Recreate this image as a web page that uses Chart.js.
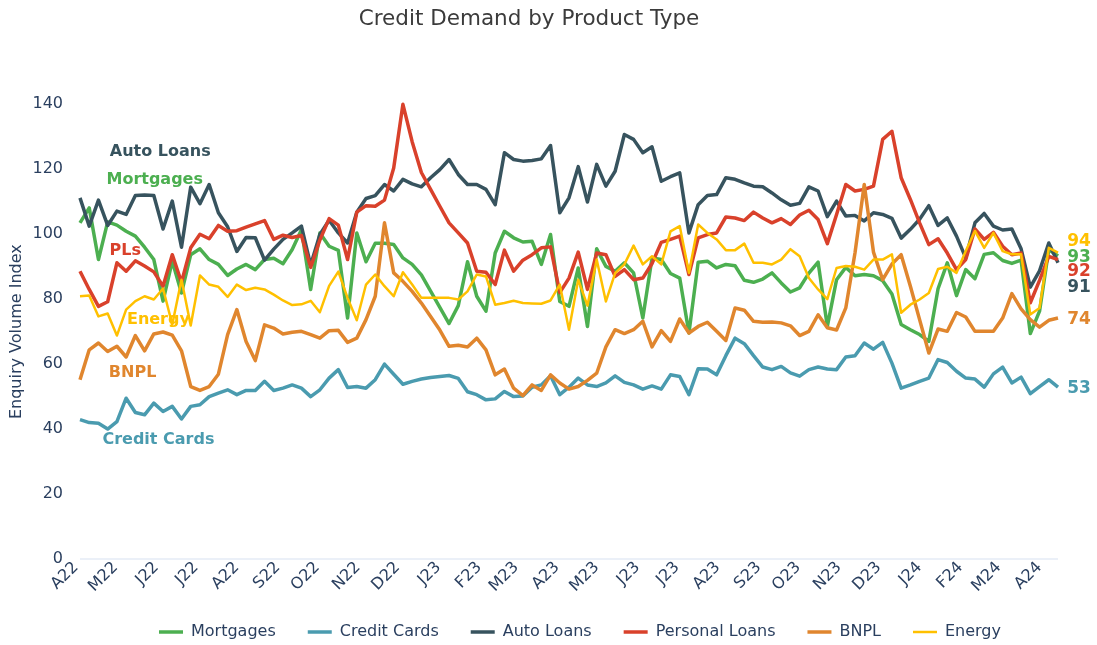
<!DOCTYPE html>
<html>
<head>
<meta charset="utf-8">
<script src="https://cdn.jsdelivr.net/npm/chart.js@4.4.0/dist/chart.umd.min.js"></script>
<style>
  html, body { margin: 0; padding: 0; background: #fff; }
</style>
</head>
<body>
<canvas id="chart" width="1097" height="645"></canvas>
<script>
// weekly enquiry index, first week = start of April 2022
const monthLabels = ['A22','M22','J22','J22','A22','S22','O22','N22','D22','J23','F23','M23','A23',
  'M23','J23','J23','A23','S23','O23','N23','D23','J24','F24','M24','A24'];
// week number on which each month starts
const monthWeeks = [0, 4.29, 8.71, 13, 17.43, 21.86, 26.14, 30.57, 34.86, 39.29, 43.71, 47.71, 52.14,
  56.43, 60.86, 65.14, 69.57, 74, 78.29, 82.71, 87, 91.43, 95.86, 100, 104.43];

const mortgages = [
  103.5,108.1,92.2,103.8,102.8,100.9,99.4,96.0,92.2,79.4,
  91.7,81.9,93.7,95.5,92.2,90.7,87.3,89.3,90.7,89.1,
  92.2,92.6,90.9,95.3,101.4,83.0,100.4,96.3,95.0,74.2,
  100.4,91.5,97.2,97.2,96.8,92.7,90.7,87.5,82.5,77.5,
  72.5,78.0,91.5,80.9,76.3,94.2,100.9,98.9,97.6,97.8,
  90.7,99.9,79.3,77.8,89.6,71.6,95.5,90.1,88.6,91.2,
  88.1,74.2,92.7,92.2,87.9,86.5,69.6,91.4,91.7,89.6,
  90.7,90.3,85.8,85.2,86.2,88.1,85.0,82.2,83.5,88.0,
  91.4,71.6,86.0,89.8,87.2,87.6,87.2,85.7,81.6,72.2,
  70.6,69.1,67.0,83.2,91.2,81.1,89.1,86.3,93.8,94.3,
  91.9,91.0,92.0,69.4,76.3,95.3,93.3
];
const creditCards = [
  42.9,42.0,41.8,40.0,42.3,49.5,45.1,44.4,48.0,45.4,
  47.0,43.1,47.0,47.5,50.0,51.1,52.1,50.6,51.9,51.9,
  54.7,51.9,52.6,53.6,52.6,50.0,52.1,55.7,58.3,52.8,
  53.1,52.6,55.2,60.0,56.9,53.8,54.7,55.4,55.9,56.2,
  56.5,55.6,51.5,50.6,49.0,49.3,51.6,50.0,50.2,52.9,
  53.6,56.4,50.6,52.9,55.7,53.6,53.1,54.2,56.4,54.4,
  53.6,52.3,53.3,52.3,56.7,56.2,50.6,58.6,58.5,56.7,
  62.6,68.0,66.3,62.6,59.1,58.3,59.3,57.3,56.3,58.3,
  59.1,58.5,58.3,62.2,62.6,66.5,64.6,66.7,60.3,52.6,
  53.6,54.7,55.7,61.4,60.5,57.8,55.7,55.4,52.9,57.0,
  59.1,54.2,56.0,50.9,53.1,55.2,52.9
];
const autoLoans = [
  111.2,102.5,110.5,102.7,107.1,106.1,111.9,112.1,111.9,101.6,
  110.2,96.0,114.5,109.4,115.3,106.6,102.3,94.7,99.0,98.9,
  92.0,95.4,98.4,100.4,102.5,90.5,99.9,104.3,100.4,97.3,
  106.8,111.0,111.9,115.3,113.3,116.9,115.5,114.6,117.4,119.9,
  123.0,118.4,115.3,115.3,113.8,109.1,125.1,123.0,122.5,122.7,
  123.2,127.3,106.6,111.2,120.8,109.9,121.5,114.8,119.4,130.7,
  129.2,125.1,126.9,116.3,117.7,118.9,100.4,109.1,111.9,112.2,
  117.4,116.9,115.8,114.8,114.6,112.7,110.6,108.9,109.5,114.6,
  113.3,105.4,110.2,105.6,105.8,104.1,106.6,106.1,104.9,98.8,
  101.5,104.6,108.8,102.7,105.0,99.4,92.7,103.5,106.4,102.5,
  101.3,101.6,95.5,83.7,88.7,97.3,91.2
];
const personalLoans = [
  88.6,83.0,77.8,79.2,91.2,88.6,91.8,90.2,88.4,84.0,
  93.7,85.2,95.8,100.0,98.6,102.7,100.9,101.1,102.2,103.2,
  104.2,98.4,99.7,99.0,99.6,89.8,98.2,104.8,102.8,92.2,
  106.8,108.8,108.6,110.5,120.4,140.0,128.5,119.0,113.8,108.6,
  103.5,100.4,97.3,88.6,88.3,84.5,95.1,88.6,92.0,93.7,
  95.8,96.1,82.0,86.5,94.5,83.0,94.2,93.7,87.0,89.1,
  86.0,86.5,91.0,97.5,98.4,99.4,87.6,98.9,99.9,100.4,
  105.3,105.0,104.2,106.8,105.0,103.5,104.8,103.0,105.9,107.4,
  104.5,97.1,106.1,115.3,113.3,113.8,114.8,129.2,131.7,117.4,
  110.7,103.5,96.8,98.6,94.2,89.1,92.2,101.6,98.4,100.6,
  96.3,93.7,94.2,78.9,85.8,93.2,92.2
];
const bnpl = [
  55.2,64.4,66.5,63.9,65.5,62.2,68.8,64.1,69.3,69.9,
  68.9,64.1,53.1,51.9,53.1,56.9,69.1,76.8,67.0,61.1,
  72.1,71.1,69.3,69.8,70.1,69.1,68.0,70.3,70.4,66.7,
  68.0,73.7,80.9,103.5,88.1,85.5,82.4,78.8,74.7,70.5,
  65.5,65.8,65.3,68.0,64.4,56.7,58.5,52.6,50.3,53.6,
  51.9,56.7,54.2,52.3,53.1,55.0,57.2,65.3,70.6,69.4,
  70.6,73.2,65.3,70.3,67.0,73.9,69.6,71.6,72.9,70.1,
  67.3,77.3,76.6,73.2,72.9,73.0,72.7,71.8,68.8,70.1,
  75.2,71.2,70.5,77.3,94.3,115.3,94.5,86.0,90.8,93.7,
  84.0,73.7,63.4,70.8,70.1,75.9,74.5,70.1,70.1,70.1,
  74.2,81.7,77.0,73.7,71.4,73.5,74.2
];
const energy = [
  80.9,81.1,74.7,75.6,68.8,76.8,79.4,80.9,79.9,83.3,
  72.2,86.0,71.9,87.3,84.5,83.8,80.7,84.5,82.8,83.5,
  83.0,81.4,79.6,78.2,78.4,79.5,76.0,84.1,88.5,80.4,
  73.5,84.5,87.6,84.0,80.9,88.3,84.5,80.4,80.4,80.4,
  80.4,79.9,82.4,87.6,87.0,78.3,78.8,79.5,78.8,78.7,
  78.6,79.6,84.5,70.6,86.0,78.0,92.2,79.3,88.0,90.7,
  96.5,90.7,93.2,90.7,100.9,102.5,88.1,103.0,100.4,98.4,
  95.1,95.1,97.1,91.2,91.2,90.7,92.2,95.4,93.2,86.5,
  83.0,80.0,89.6,90.2,90.0,89.1,92.2,92.2,93.8,75.8,
  78.3,79.9,81.9,89.3,90.0,88.1,94.8,101.0,95.8,100.4,
  94.8,93.8,93.8,75.3,77.3,95.8,94.3
];

const textColor = '#2a3f5f';
const series = [
  { label: 'Mortgages', data: mortgages, color: '#4CAF50', width: 3.5, tag: 'Mortgages', tagAt: [8.1, 116.8], endAt: 92.8 },
  { label: 'Credit Cards', data: creditCards, color: '#4A9BAF', width: 3.5, tag: 'Credit Cards', tagAt: [8.5, 36.7], endAt: 52.4 },
  { label: 'Auto Loans', data: autoLoans, color: '#37535E', width: 3.5, tag: 'Auto Loans', tagAt: [8.7, 125.5], endAt: 83.5 },
  { label: 'Personal Loans', data: personalLoans, color: '#D9412B', width: 3.5, tag: 'PLs', tagAt: [4.9, 95.0], endAt: 88.5 },
  { label: 'BNPL', data: bnpl, color: '#E0862E', width: 3.5, tag: 'BNPL', tagAt: [5.7, 57.3], endAt: 73.7 },
  { label: 'Energy', data: energy, color: '#FFC000', width: 2.5, tag: 'Energy', tagAt: [8.5, 73.7], endAt: 97.7 }
];

const tagPlugin = {
  id: 'tags',
  // legend sits a bit right of centre and just under the rotated month labels
  afterLayout(chart) {
    const lg = chart.legend;
    lg.left += 51;
    lg.right += 51;
    lg.top = 592;
    lg.bottom = 645;
    lg.height = 53;
  },
  afterDatasetsDraw(chart) {
    const { ctx, scales: { x, y } } = chart;
    ctx.save();
    ctx.textBaseline = 'middle';
    series.forEach(s => {
      ctx.fillStyle = s.color;
      ctx.font = "bold 16px 'DejaVu Sans'";
      ctx.textAlign = 'center';
      ctx.fillText(s.tag, x.getPixelForValue(s.tagAt[0]), y.getPixelForValue(s.tagAt[1]));
      const last = s.data[s.data.length - 1];
      ctx.font = "bold 17px 'DejaVu Sans'";
      ctx.textAlign = 'left';
      ctx.fillText(String(Math.round(last)), x.getPixelForValue(107), y.getPixelForValue(s.endAt));
    });
    ctx.restore();
  }
};

Chart.defaults.font.family = "'DejaVu Sans', Verdana, sans-serif";
Chart.defaults.color = textColor;

new Chart(document.getElementById('chart'), {
  type: 'line',
  data: {
    labels: mortgages.map((_, i) => i),
    datasets: series.map((s, i) => ({
      label: s.label,
      data: s.data,
      borderColor: s.color,
      backgroundColor: s.color,
      borderWidth: s.width,
      pointRadius: 0,
      tension: 0,
      borderJoinStyle: 'round',
      clip: false,
      order: series.length - i
    }))
  },
  options: {
    responsive: false,
    animation: false,
    layout: { padding: { left: 0, right: 39, top: 0, bottom: 0 } },
    plugins: {
      title: {
        display: true,
        text: 'Credit Demand by Product Type',
        color: '#3b3b3b',
        font: { size: 21.5, weight: 'normal' },
        padding: { top: 7, bottom: 71.5 }
      },
      legend: {
        position: 'bottom',
        maxHeight: 20,
        labels: {
          usePointStyle: true,
          pointStyle: 'line',
          pointStyleWidth: 24,
          padding: 32,
          color: textColor,
          font: { size: 16 },
          sort: (a, b) => a.datasetIndex - b.datasetIndex
        }
      },
      tooltip: { enabled: false }
    },
    scales: {
      x: {
        type: 'linear',
        min: 0,
        max: 106,
        afterBuildTicks: s => { s.ticks = monthWeeks.map(v => ({ value: v })); },
        afterFit: s => { s.height = 66; },
        grid: { display: false, drawTicks: false },
        border: { display: false },
        ticks: {
          autoSkip: false,
          minRotation: 45,
          maxRotation: 45,
          padding: -1,
          labelOffset: -4,
          font: { size: 16 },
          callback: (v, i) => monthLabels[i]
        }
      },
      y: {
        min: 0,
        max: 140,
        afterFit: s => { s.width = 80; },
        border: { display: false },
        grid: {
          drawTicks: false,
          lineWidth: 2,
          color: c => c.tick && c.tick.value === 0 ? '#EBF0F8' : 'rgba(0,0,0,0)'
        },
        ticks: { stepSize: 20, padding: 17, font: { size: 16 } },
        title: {
          display: true,
          text: 'Enquiry Volume Index',
          font: { size: 16 },
          padding: { top: 7, bottom: 0 }
        }
      }
    }
  },
  plugins: [tagPlugin]
});
</script>
</body>
</html>
